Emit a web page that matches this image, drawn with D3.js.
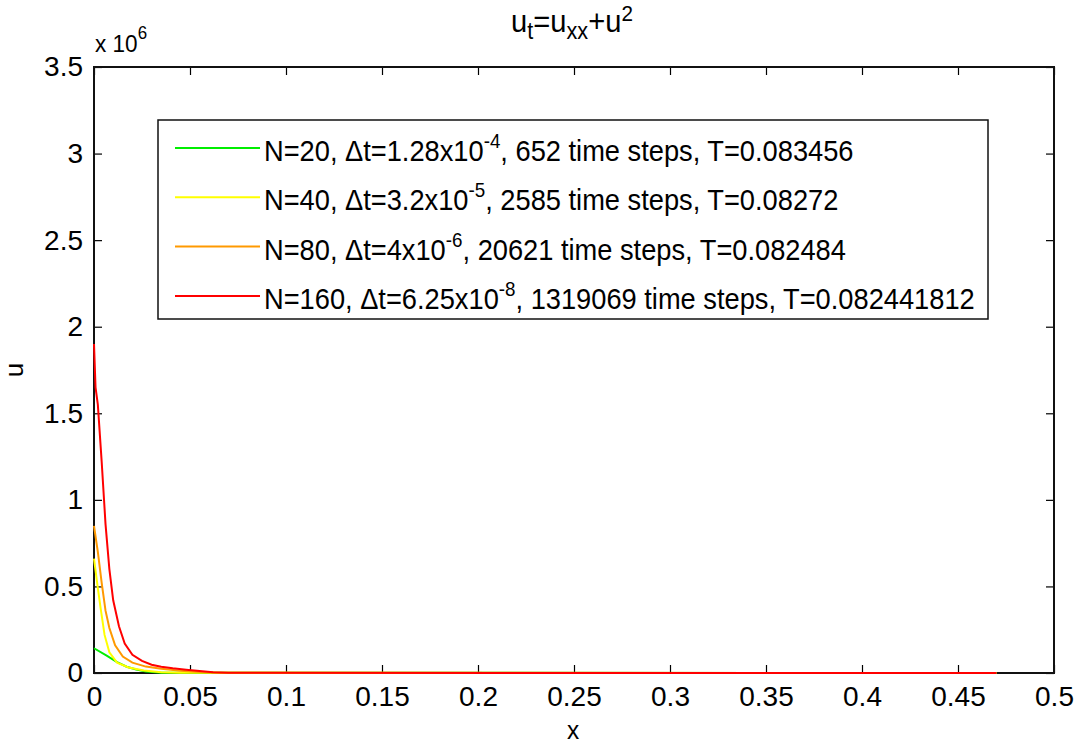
<!DOCTYPE html>
<html>
<head>
<meta charset="utf-8">
<script src="https://cdn.jsdelivr.net/npm/d3@7"></script>
<style>
  body { margin: 0; background: #fff; }
  text { font-family: "Liberation Sans", Arial, sans-serif; fill: #000; }
</style>
</head>
<body>
<div id="graphSection"></div>
<script>
// x positions and u values (u in units of 10^6)
var xN20 = [0, 0.0066, 0.012, 0.017, 0.022, 0.027, 0.035, 0.47];
var uN20 = [0.143, 0.10, 0.063, 0.036, 0.020, 0.008, 0.002, 0];

var xN40 = [0, 0.002, 0.0035, 0.0055, 0.008, 0.012, 0.018, 0.026, 0.035, 0.045, 0.47];
var uN40 = [0.66, 0.49, 0.37, 0.22, 0.12, 0.06, 0.032, 0.014, 0.005, 0.001, 0];

var xN80 = [0, 0.002, 0.004, 0.006, 0.008, 0.011, 0.015, 0.020, 0.027, 0.035, 0.045, 0.055, 0.065, 0.47];
var uN80 = [0.85, 0.70, 0.52, 0.36, 0.26, 0.16, 0.095, 0.06, 0.037, 0.024, 0.013, 0.006, 0.002, 0];

var xN160 = [0, 0.0008, 0.002, 0.004, 0.006, 0.008, 0.010, 0.013, 0.016, 0.020, 0.025, 0.030, 0.035, 0.041, 0.048, 0.055, 0.062, 0.07, 0.47];
var uN160 = [1.90, 1.65, 1.55, 1.22, 0.86, 0.60, 0.42, 0.27, 0.17, 0.105, 0.070, 0.048, 0.036, 0.027, 0.019, 0.012, 0.005, 0.001, 0];

var seriesNames = ["N20", "N40", "N80", "N160"];
var seriesColors = ["#00ee00", "#ffff00", "#ff9900", "#ff0000"];
// legend: [plain text, superscript, rest]
var legendParts = [
    ["N=20, \u0394t=1.28x10", "-4", ", 652 time steps, T=0.083456"],
    ["N=40, \u0394t=3.2x10", "-5", ", 2585 time steps, T=0.08272"],
    ["N=80, \u0394t=4x10", "-6", ", 20621 time steps, T=0.082484"],
    ["N=160, \u0394t=6.25x10", "-8", ", 1319069 time steps, T=0.082441812"]
];

var xTicks = [0, 0.05, 0.1, 0.15, 0.2, 0.25, 0.3, 0.35, 0.4, 0.45, 0.5];
var yTicks = [0, 0.5, 1, 1.5, 2, 2.5, 3, 3.5];

const WIDTH = 1089;
const HEIGHT = 745;
const LEFT = 94, RIGHT = 1054, TOP = 67, BOTTOM = 673;
const SQ = 0.94; // horizontal squeeze of the text

var svg = d3.select("#graphSection")
            .append("svg")
            .attr("width", WIDTH)
            .attr("height", HEIGHT);

var xScale = d3.scaleLinear().domain([0, 0.5]).range([LEFT, RIGHT]),
    yScale = d3.scaleLinear().domain([0, 3.5]).range([BOTTOM, TOP]);

// axes, ticks pointing inwards
var fmt = function (d) { return String(d); };
var gx = svg.append("g")
    .attr("transform", "translate(0," + BOTTOM + ")")
    .call(d3.axisBottom(xScale).tickValues(xTicks).tickFormat(fmt).tickSizeInner(-8).tickSizeOuter(0).tickPadding(13));
var gy = svg.append("g")
    .attr("transform", "translate(" + LEFT + ",0)")
    .call(d3.axisLeft(yScale).tickValues(yTicks).tickFormat(fmt).tickSizeInner(-8).tickSizeOuter(0).tickPadding(11));
svg.append("g")
    .attr("transform", "translate(0," + TOP + ")")
    .call(d3.axisTop(xScale).tickValues(xTicks).tickFormat("").tickSizeInner(-8).tickSizeOuter(0));
svg.append("g")
    .attr("transform", "translate(" + RIGHT + ",0)")
    .call(d3.axisRight(yScale).tickValues(yTicks).tickFormat("").tickSizeInner(-8).tickSizeOuter(0));

svg.selectAll(".tick line").attr("stroke", "#000").attr("stroke-width", 1.2);
svg.selectAll(".domain").remove();
gx.selectAll("text").style("font-size", "28px").style("font-family", "Liberation Sans, Arial, sans-serif");
gy.selectAll("text").style("font-size", "28px").style("font-family", "Liberation Sans, Arial, sans-serif");

// box round the plot
svg.append("rect")
    .attr("x", LEFT)
    .attr("y", TOP)
    .attr("width", RIGHT - LEFT)
    .attr("height", BOTTOM - TOP)
    .attr("fill", "none")
    .attr("stroke", "#111")
    .attr("stroke-width", 2);

// the curves, on top of the box as in the original
var line = d3.line()
    .x(function (d) { return xScale(d[0]); })
    .y(function (d) { return yScale(d[1]); });

var allX = { N20: xN20, N40: xN40, N80: xN80, N160: xN160 };
var allU = { N20: uN20, N40: uN40, N80: uN80, N160: uN160 };

seriesNames.forEach(function (name, i) {
    var pts = allX[name].map(function (x, j) { return [x, allU[name][j]]; });
    svg.append("path")
        .datum(pts)
        .attr("fill", "none")
        .attr("stroke", seriesColors[i])
        .attr("stroke-width", 2)
        .attr("d", line);
});

// Title
var title = svg.append("text")
    .attr("transform", "translate(572,32) scale(" + SQ + ",1)")
    .attr("text-anchor", "middle")
    .style("font-size", "31px");
title.append("tspan").text("u");
title.append("tspan").attr("dy", 7).style("font-size", "23px").text("t");
title.append("tspan").attr("dy", -7).text("=u");
title.append("tspan").attr("dy", 7).style("font-size", "23px").text("xx");
title.append("tspan").attr("dy", -7).text("+u");
title.append("tspan").attr("dy", -11).style("font-size", "22px").text("2");

// exponent label
var expo = svg.append("text")
    .attr("transform", "translate(95,52) scale(" + SQ + ",1)")
    .style("font-size", "24px");
expo.append("tspan").text("x 10");
expo.append("tspan").attr("dy", -13).style("font-size", "18px").text("6");

// axis labels
svg.append("text")
    .attr("transform", "translate(573,739) scale(" + SQ + ",1)")
    .attr("text-anchor", "middle")
    .style("font-size", "26px")
    .text("x");
svg.append("text")
    .attr("transform", "translate(23,370) rotate(-90)")
    .attr("text-anchor", "middle")
    .style("font-size", "26px")
    .text("u");

// legend
svg.append("rect")
    .attr("x", 158)
    .attr("y", 120)
    .attr("width", 830)
    .attr("height", 199)
    .attr("fill", "#fff")
    .attr("stroke", "#111")
    .attr("stroke-width", 1.5);

legendParts.forEach(function (parts, i) {
    var y = 148 + i * 49.3;
    svg.append("line")
        .attr("x1", 175).attr("x2", 260)
        .attr("y1", y).attr("y2", y)
        .attr("stroke", seriesColors[i])
        .attr("stroke-width", 2);
    var t = svg.append("text")
        .attr("transform", "translate(264," + (y + 13) + ") scale(" + SQ + ",1)")
        .style("font-size", "29px");
    t.append("tspan").text(parts[0]);
    t.append("tspan").attr("dy", -13).style("font-size", "20px").text(parts[1]);
    t.append("tspan").attr("dy", 13).text(parts[2]);
});
</script>
</body>
</html>
